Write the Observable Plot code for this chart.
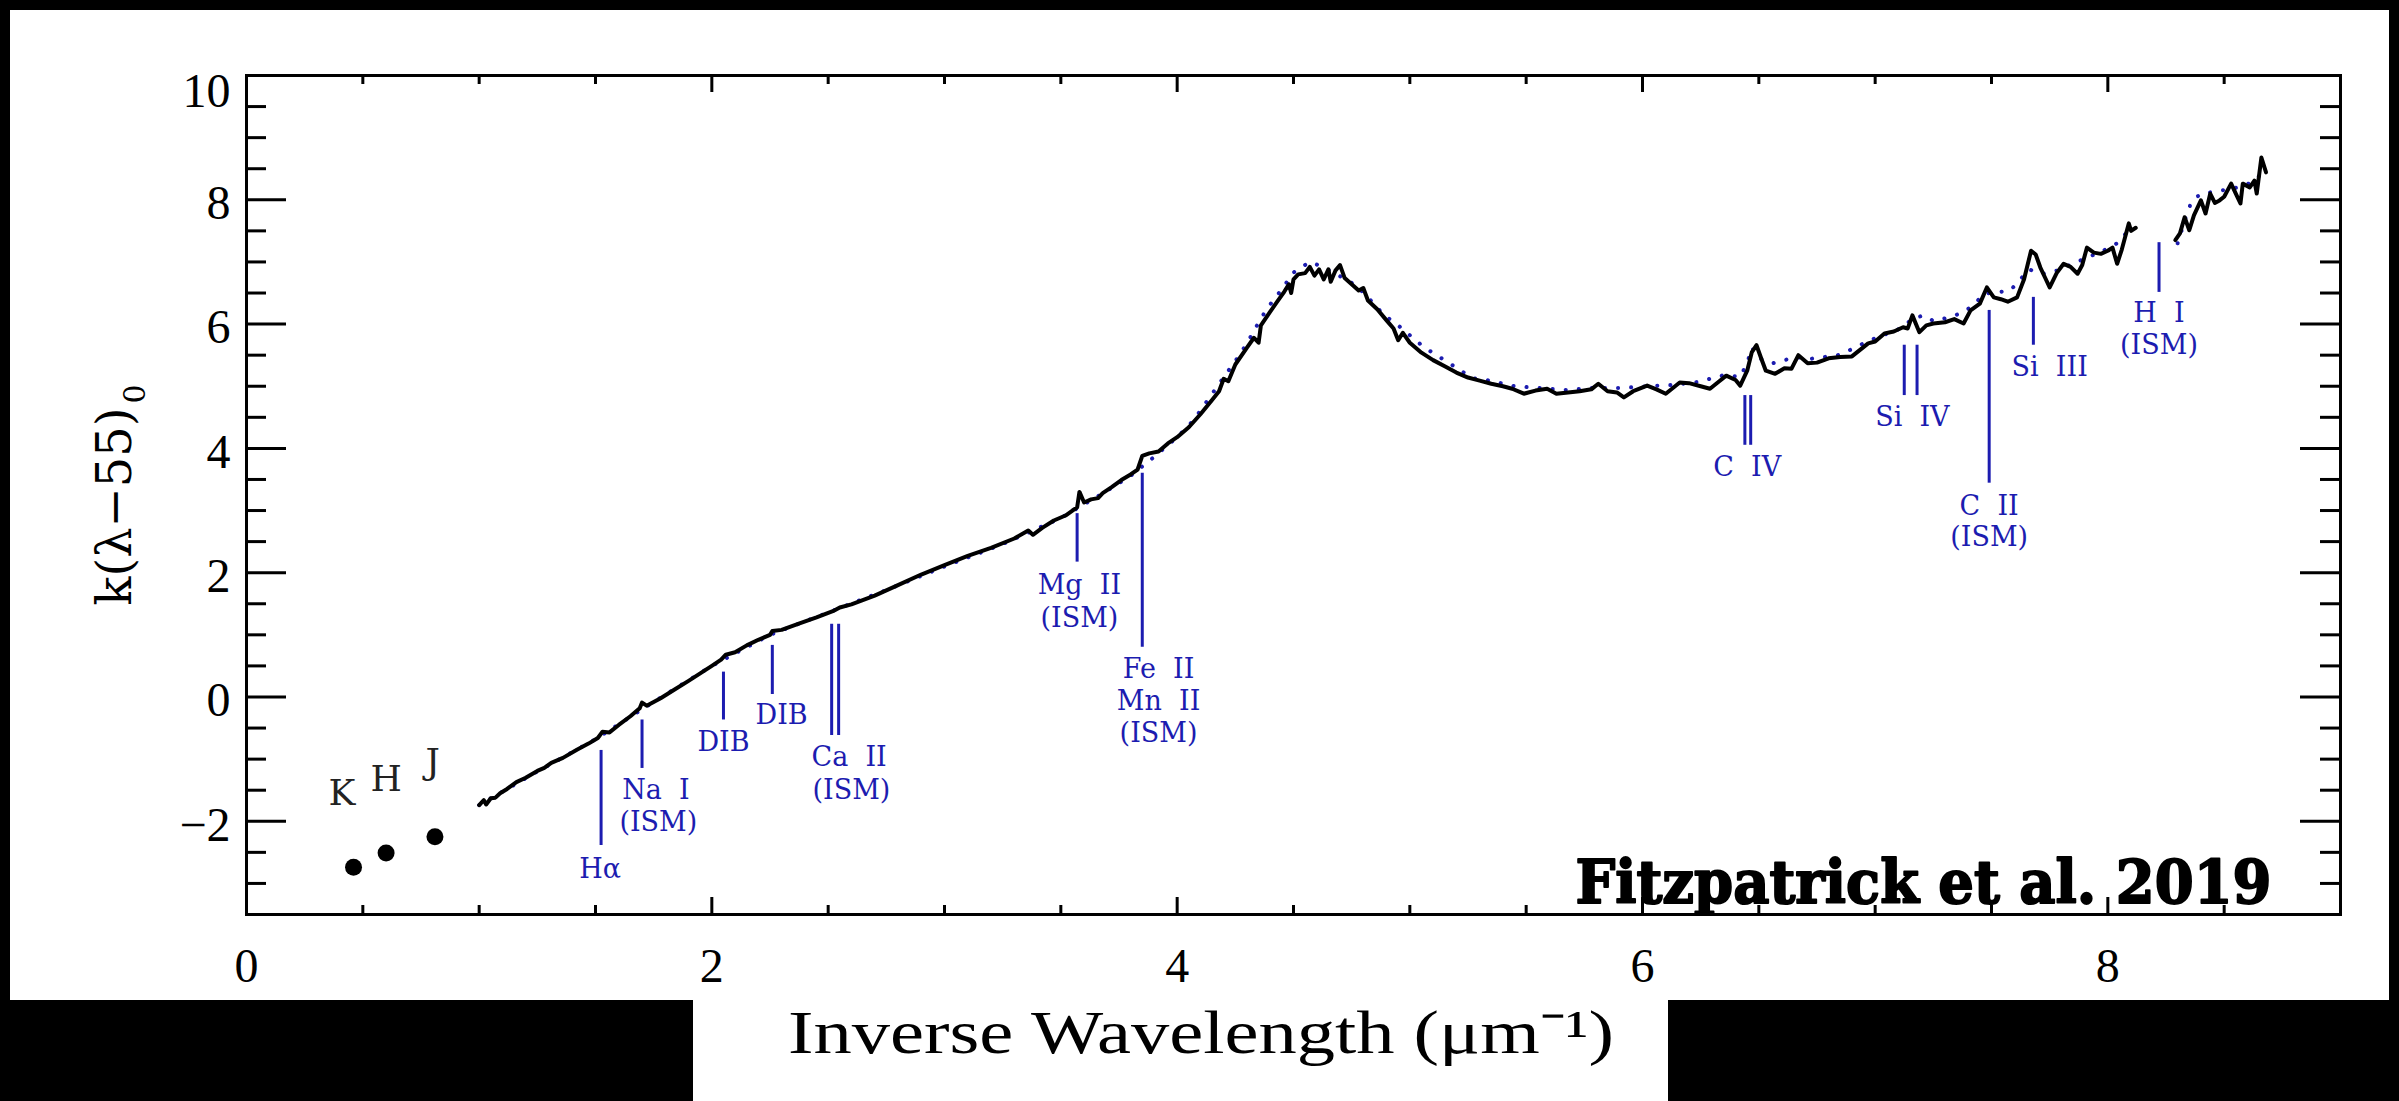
<!DOCTYPE html>
<html>
<head>
<meta charset="utf-8">
<script src="https://cdn.jsdelivr.net/npm/d3@7"></script>
<script src="https://cdn.jsdelivr.net/npm/@observablehq/plot@0.6"></script>
<style>
  html, body { margin: 0; padding: 0; background: #000; width: 2399px; height: 1101px; overflow: hidden; }
  #panel { position: absolute; left: 10px; top: 10px; width: 2379px; height: 990px; background: #fff; }
  #xlab { position: absolute; left: 693px; top: 995px; width: 975px; height: 106px; background: #fff; }
  svg text { white-space: pre; }
</style>
</head>
<body>
<div id="panel"></div>
<div id="xlab"></div>
<script>
// ---------------- data ----------------
const xTitle = "Inverse Wavelength (\u03bcm\u207b\u00b9)";
const yTitleMain = "k(\u03bb\u221255)";
const yTitleSub = "0";
const credit = "Fitzpatrick et al. 2019";

const xTickLabels = [0, 2, 4, 6, 8];
const xMinorTicks = [0.5, 1, 1.5, 2.5, 3, 3.5, 4.5, 5, 5.5, 6.5, 7, 7.5, 8.5];
const yTickLabels = [10, 8, 6, 4, 2, 0, -2];
const yMajorTicks = [8, 6, 4, 2, 0, -2];
const yMinorTicks = [9.5, 9, 8.5, 7.5, 7, 6.5, 5.5, 5, 4.5, 3.5, 3, 2.5, 1.5, 1, 0.5, -0.5, -1, -1.5, -2.5, -3];

// observed spectrum (two segments, gap near Ly-alpha)
const spectrumA = [
[1.00,-1.74],[1.02,-1.66],[1.03,-1.73],[1.05,-1.63],[1.07,-1.62],[1.09,-1.55],[1.12,-1.48],[1.16,-1.37],[1.20,-1.30],[1.25,-1.19],[1.28,-1.14],[1.31,-1.06],[1.36,-0.98],[1.42,-0.85],[1.47,-0.75],[1.51,-0.66],[1.53,-0.56],[1.56,-0.57],[1.60,-0.45],[1.65,-0.31],[1.69,-0.18],[1.70,-0.09],[1.72,-0.14],[1.78,-0.02],[1.84,0.12],[1.90,0.26],[1.95,0.38],[2.00,0.50],[2.04,0.60],[2.06,0.68],[2.10,0.72],[2.15,0.83],[2.20,0.92],[2.25,1.00],[2.26,1.06],[2.30,1.08],[2.38,1.19],[2.45,1.28],[2.52,1.38],[2.55,1.44],[2.60,1.49],[2.70,1.63],[2.80,1.80],[2.90,1.97],[3.00,2.12],[3.10,2.27],[3.20,2.40],[3.30,2.55],[3.36,2.68],[3.38,2.61],[3.42,2.72],[3.47,2.84],[3.52,2.92],[3.55,3.00],[3.57,3.05],[3.58,3.30],[3.60,3.13],[3.63,3.18],[3.66,3.20],[3.68,3.28],[3.72,3.38],[3.76,3.49],[3.80,3.58],[3.83,3.66],[3.85,3.88],[3.88,3.92],[3.92,3.95],[3.96,4.08],[4.00,4.18],[4.05,4.34],[4.10,4.55],[4.15,4.78],[4.18,4.92],[4.20,5.12],[4.22,5.08],[4.25,5.35],[4.30,5.62],[4.33,5.78],[4.35,5.70],[4.36,5.98],[4.40,6.20],[4.43,6.36],[4.46,6.52],[4.48,6.64],[4.49,6.50],[4.50,6.72],[4.52,6.80],[4.55,6.82],[4.57,6.92],[4.59,6.78],[4.61,6.88],[4.63,6.72],[4.65,6.88],[4.66,6.68],[4.68,6.86],[4.70,6.95],[4.72,6.74],[4.75,6.64],[4.78,6.54],[4.80,6.58],[4.82,6.38],[4.86,6.24],[4.90,6.06],[4.93,5.93],[4.95,5.74],[4.97,5.86],[5.00,5.70],[5.05,5.54],[5.10,5.42],[5.15,5.32],[5.20,5.22],[5.25,5.14],[5.30,5.09],[5.35,5.04],[5.40,5.00],[5.44,4.96],[5.49,4.88],[5.54,4.93],[5.59,4.96],[5.63,4.88],[5.68,4.90],[5.73,4.92],[5.78,4.95],[5.81,5.04],[5.85,4.92],[5.89,4.90],[5.92,4.82],[5.96,4.92],[6.02,5.01],[6.06,4.95],[6.10,4.88],[6.16,5.06],[6.20,5.05],[6.25,5.00],[6.29,4.96],[6.33,5.08],[6.36,5.17],[6.40,5.10],[6.42,5.01],[6.45,5.25],[6.47,5.55],[6.49,5.66],[6.51,5.45],[6.53,5.25],[6.57,5.20],[6.61,5.29],[6.64,5.28],[6.67,5.50],[6.71,5.37],[6.75,5.38],[6.80,5.45],[6.85,5.47],[6.90,5.48],[6.97,5.69],[7.00,5.72],[7.04,5.85],[7.08,5.88],[7.12,5.95],[7.14,5.93],[7.16,6.14],[7.19,5.87],[7.22,5.98],[7.25,6.01],[7.30,6.03],[7.34,6.08],[7.38,6.01],[7.41,6.22],[7.45,6.33],[7.48,6.59],[7.51,6.43],[7.54,6.40],[7.57,6.36],[7.61,6.43],[7.64,6.72],[7.67,7.18],[7.69,7.12],[7.71,6.91],[7.73,6.75],[7.75,6.59],[7.78,6.82],[7.81,6.97],[7.84,6.92],[7.87,6.81],[7.89,6.95],[7.91,7.23],[7.94,7.15],[7.97,7.13],[8.00,7.18],[8.02,7.23],[8.04,6.97],[8.06,7.20],[8.09,7.62],[8.10,7.50],[8.12,7.55]
];
const spectrumB = [
[8.29,7.35],[8.31,7.46],[8.33,7.72],[8.35,7.51],[8.37,7.75],[8.40,7.99],[8.42,7.78],[8.44,8.10],[8.46,7.95],[8.48,7.99],[8.50,8.05],[8.53,8.26],[8.55,8.10],[8.57,7.94],[8.58,8.26],[8.61,8.20],[8.63,8.31],[8.64,8.10],[8.66,8.68],[8.68,8.44]
];
// model curve (blue dotted)
const modelA = [
[1.00,-1.74],[1.25,-1.20],[1.50,-0.68],[1.75,-0.08],[2.00,0.50],[2.25,1.00],[2.50,1.36],[2.75,1.72],[3.00,2.10],[3.25,2.46],[3.50,2.88],[3.60,3.10],[3.70,3.32],[3.80,3.56],[3.90,3.86],[4.00,4.18],[4.07,4.45],[4.13,4.77],[4.19,5.09],[4.26,5.46],[4.30,5.69],[4.36,6.09],[4.39,6.27],[4.43,6.46],[4.47,6.67],[4.50,6.83],[4.57,7.00],[4.62,6.93],[4.71,6.75],[4.77,6.62],[4.82,6.43],[4.89,6.14],[4.94,6.01],[5.06,5.63],[5.17,5.37],[5.27,5.13],[5.33,5.10],[5.45,5.00],[5.56,4.97],[5.67,4.94],[5.78,4.97],[5.90,4.97],[6.02,5.00],[6.13,5.02],[6.24,5.07],[6.35,5.18],[6.42,5.15],[6.45,5.37],[6.47,5.62],[6.50,5.45],[6.56,5.37],[6.66,5.47],[6.72,5.44],[6.78,5.47],[6.84,5.50],[6.89,5.58],[6.95,5.69],[7.01,5.79],[7.07,5.87],[7.12,5.95],[7.16,6.09],[7.21,6.14],[7.25,6.05],[7.32,6.11],[7.38,6.19],[7.42,6.30],[7.47,6.49],[7.52,6.51],[7.58,6.54],[7.62,6.70],[7.66,6.88],[7.72,6.81],[7.78,6.86],[7.88,7.02],[7.98,7.18],[8.04,7.30],[8.09,7.51],[8.12,7.55]
];
const modelB = [
[8.30,7.30],[8.34,7.78],[8.36,7.97],[8.40,8.10],[8.46,8.13],[8.56,8.20],[8.62,8.28],[8.67,8.45]
];

// near-infrared photometry
const nirBand = ["K", "H", "J"];
const nirX = [0.46, 0.60, 0.81];
const nirY = [-2.74, -2.51, -2.25];
const nirLabelX = [0.41, 0.60, 0.80];
const nirLabelY = [-1.55, -1.33, -1.05];

// line identifications
const lineX      = [1.524, 1.70, 2.05, 2.26, 2.515, 2.545, 3.57, 3.85, 6.44, 6.465, 7.125, 7.18, 7.49, 7.68, 8.22];
const lineTop    = [-0.86, -0.37, 0.40, 0.83, 1.17, 1.17, 2.95, 3.60, 4.85, 4.85, 5.66, 5.66, 6.22, 6.43, 7.31];
const lineBottom = [-2.39, -1.15, -0.37, 0.04, -0.62, -0.62, 2.17, 0.80, 4.05, 4.05, 4.85, 4.85, 3.44, 5.66, 6.51];

const labelText = ["H\u03b1", "Na  I", "(ISM)", "DIB", "DIB", "Ca  II", "(ISM)", "Mg  II", "(ISM)", "Fe  II", "Mn  II", "(ISM)", "C  IV", "Si  IV", "C  II", "(ISM)", "Si  III", "H  I", "(ISM)"];
const labelX    = [1.52, 1.76, 1.77, 2.05, 2.30, 2.59, 2.60, 3.58, 3.58, 3.92, 3.92, 3.92, 6.45, 7.16, 7.49, 7.49, 7.75, 8.22, 8.22];
const labelY    = [-2.78, -1.51, -2.02, -0.73, -0.30, -0.97, -1.50, 1.79, 1.27, 0.45, -0.07, -0.58, 3.70, 4.50, 3.07, 2.57, 5.30, 6.18, 5.66];

// ---------------- tables ----------------
const spectrum = [
  ...spectrumA.map(([x, y]) => ({x, y, seg: "a"})),
  ...spectrumB.map(([x, y]) => ({x, y, seg: "b"}))
];
const model = [
  ...modelA.map(([x, y]) => ({x, y, seg: "a"})),
  ...modelB.map(([x, y]) => ({x, y, seg: "b"}))
];
const nir = nirBand.map((b, i) => ({band: b, x: nirX[i], y: nirY[i], lx: nirLabelX[i], ly: nirLabelY[i]}));
const lines = lineX.map((x, i) => ({x, y1: lineTop[i], y2: lineBottom[i]}));
const labels = labelText.map((t, i) => ({t, x: labelX[i], y: labelY[i]}));

// ---------------- layout ----------------
const W = 2379, H = 990;
const mL = 236, mR = 49, mT = 65, mB = 86;
const innerW = W - mL - mR, innerH = H - mT - mB;
const blue = "#1c1cb0";
const serif = "'DejaVu Serif', serif";
const tickFont = "'Liberation Serif', serif";
const fmt = d => (d < 0 ? "\u2212" : "") + Math.abs(d);

const chart = Plot.plot({
  width: W, height: H,
  marginLeft: mL, marginRight: mR, marginTop: mT, marginBottom: mB,
  x: {domain: [0, 9]},
  y: {domain: [-3.5, 10]},
  style: {background: "transparent", color: "#000", fontFamily: serif, fontSize: "44px", overflow: "visible"},
  marks: [
    // ticks (inward)
    Plot.tickX(xTickLabels, {x: d => d, insetTop: innerH - 17, strokeWidth: 3}),
    Plot.tickX(xTickLabels, {x: d => d, insetBottom: innerH - 17, strokeWidth: 3}),
    Plot.tickX(xMinorTicks, {x: d => d, insetTop: innerH - 9, strokeWidth: 3}),
    Plot.tickX(xMinorTicks, {x: d => d, insetBottom: innerH - 9, strokeWidth: 3}),
    Plot.tickY(yMajorTicks, {y: d => d, insetRight: innerW - 40, strokeWidth: 3}),
    Plot.tickY(yMajorTicks, {y: d => d, insetLeft: innerW - 40, strokeWidth: 3}),
    Plot.tickY(yMinorTicks, {y: d => d, insetRight: innerW - 20, strokeWidth: 3}),
    Plot.tickY(yMinorTicks, {y: d => d, insetLeft: innerW - 20, strokeWidth: 3}),
    // axis labels
    Plot.axisX(xTickLabels, {anchor: "bottom", tickSize: 0, tickPadding: 33, fontSize: 48, fontFamily: tickFont, tickFormat: fmt, label: null}),
    Plot.axisY(yTickLabels.filter(d => d !== 10), {anchor: "left", tickSize: 0, tickPadding: 16, fontSize: 48, fontFamily: tickFont, tickFormat: fmt, dy: 4, label: null}),
    Plot.axisY(yTickLabels.filter(d => d === 10), {anchor: "left", tickSize: 0, tickPadding: 16, fontSize: 48, fontFamily: tickFont, tickFormat: fmt, dy: 16, label: null}),
    Plot.text([yTitleMain], {frameAnchor: "left", text: d => d, rotate: -90, dx: -131, fontSize: 48, fontFamily: serif, textAnchor: "middle", lineAnchor: "middle"}),
    // line identifications
    Plot.ruleX(lines, {x: "x", y1: "y1", y2: "y2", stroke: blue, strokeWidth: 3}),
    Plot.text(labels, {x: "x", y: "y", text: "t", fill: blue, fontSize: 27, fontFamily: serif, lineAnchor: "middle"}),
    // NIR points
    Plot.dot(nir, {x: "x", y: "y", r: 8.5, fill: "#000", stroke: null}),
    Plot.text(nir, {x: "lx", y: "ly", text: "band", fontSize: 36, fontFamily: serif, fill: "#222", lineAnchor: "middle"}),
    // model + data
    Plot.line(model, {x: "x", y: "y", z: "seg", stroke: blue, strokeWidth: 4, strokeDasharray: "0.1,13", strokeLinecap: "round"}),
    Plot.line(spectrum, {x: "x", y: "y", z: "seg", stroke: "#000", strokeWidth: 4, strokeLinejoin: "round"}),
    // credit
    Plot.text([credit], {frameAnchor: "bottom-right", text: d => d, dx: -69, dy: -12, textAnchor: "end", lineAnchor: "bottom", fontSize: 60, fontWeight: "bold", fontFamily: serif, fill: "#000", stroke: "#000", strokeWidth: 2}),
    Plot.frame({stroke: "#000", strokeWidth: 3})
  ]
});

for (const t of chart.querySelectorAll("text")) {
  if (t.textContent === credit) {
    t.setAttribute("textLength", 696);
    t.setAttribute("lengthAdjust", "spacingAndGlyphs");
  }
  if (t.textContent === yTitleMain) {
    // append the subscript as a real tspan
    const sub = document.createElementNS("http://www.w3.org/2000/svg", "tspan");
    sub.textContent = yTitleSub;
    sub.setAttribute("font-size", "30");
    sub.setAttribute("dy", "14");
    sub.setAttribute("dx", "4");
    t.appendChild(sub);
  }
}
document.getElementById("panel").appendChild(chart);

// x-axis title below the panel
const ns = "http://www.w3.org/2000/svg";
const xs = document.createElementNS(ns, "svg");
xs.setAttribute("width", 975); xs.setAttribute("height", 106);
const xt = document.createElementNS(ns, "text");
xt.setAttribute("x", 508); xt.setAttribute("y", 58);
xt.setAttribute("text-anchor", "middle");
xt.setAttribute("font-family", "'Liberation Serif', serif");
xt.setAttribute("font-size", 62);
xt.setAttribute("textLength", 826);
xt.setAttribute("lengthAdjust", "spacingAndGlyphs");
xt.textContent = xTitle;
xs.appendChild(xt);
document.getElementById("xlab").appendChild(xs);
</script>
</body>
</html>
